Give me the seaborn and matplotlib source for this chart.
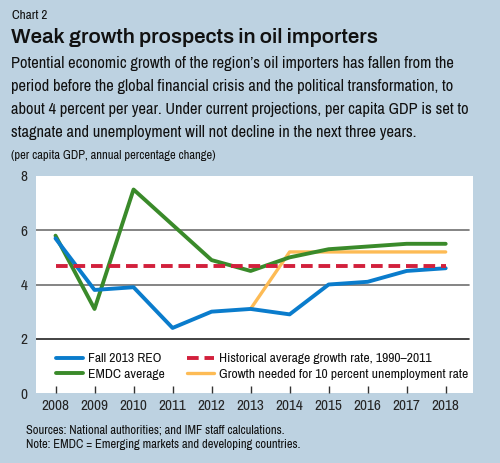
import matplotlib
matplotlib.use('Agg')
import matplotlib.pyplot as plt
import seaborn as sns
import pandas as pd

# ---- data ----
years = [2008, 2009, 2010, 2011, 2012, 2013, 2014, 2015, 2016, 2017, 2018]
fall_2013_reo = [5.7, 3.8, 3.9, 2.4, 3.0, 3.1, 2.9, 4.0, 4.1, 4.5, 4.6]
emdc_average = [5.8, 3.1, 7.5, 6.2, 4.9, 4.5, 5.0, 5.3, 5.4, 5.5, 5.5]
historical_avg = [4.7] * len(years)
needed_years = [2013, 2014, 2015, 2016, 2017, 2018]
needed_growth = [3.1, 5.2, 5.2, 5.2, 5.2, 5.2]

sns.set_theme(style='white')
plt.rcParams['font.family'] = ['Archivo Narrow', 'DejaVu Sans']
plt.rcParams['text.color'] = '#111111'

bg = '#bdd2e1'
fig = plt.figure(figsize=(5, 4.63), dpi=100, facecolor=bg)
ax = fig.add_axes([0.072, 0.151, 0.874, 0.469])
ax.set_facecolor('white')

df_main = pd.DataFrame({'year': years, 'reo': fall_2013_reo,
                        'emdc': emdc_average, 'hist': historical_avg})
df_need = pd.DataFrame({'year': needed_years, 'need': needed_growth})

sns.lineplot(data=df_main, x='year', y='reo', ax=ax, color='#0a7ccc', lw=2.8,
             label='Fall 2013 REO', zorder=5)
sns.lineplot(data=df_main, x='year', y='emdc', ax=ax, color='#3a8a2a', lw=2.8,
             label='EMDC average', zorder=4)
sns.lineplot(data=df_main, x='year', y='hist', ax=ax, color='#d2203c', lw=2.8,
             label='Historical average growth rate, 1990–2011', zorder=6)
ax.lines[-1].set_dashes([3, 1.5])
sns.lineplot(data=df_need, x='year', y='need', ax=ax, color='#fdbb55', lw=2.4,
             label='Growth needed for 10 percent unemployment rate', zorder=3)

ax.set_xlim(2007.5, 2018.7)
ax.set_ylim(0, 8)
for y, c in [(2, '#222222'), (4, '#707070'), (6, '#707070')]:
    ax.axhline(y, xmin=0, xmax=0.99, color=c, lw=1.2, zorder=1)
for s in ax.spines.values():
    s.set_visible(False)

ax.set_xticks(years)
ax.set_xticklabels([str(y) for y in years], fontsize=11)
ax.set_yticks([0, 2, 4, 6, 8])
ax.set_yticklabels(['0', '2', '4', '6', '8'], fontsize=11)
ax.tick_params(axis='x', direction='in', length=5, width=1, color='#333333',
               pad=4, bottom=True)
ax.tick_params(axis='y', length=0, pad=6)
ax.set_xlabel('')
ax.set_ylabel('')

leg = ax.legend(loc='lower left', bbox_to_anchor=(0.046, 0.06), ncol=2,
                frameon=False, fontsize=9.8, handlelength=2.0,
                columnspacing=1.6, labelspacing=0.3, handletextpad=0.35,
                borderaxespad=0, borderpad=0)

# ---- texts ----
fig.text(0.024, 0.966, 'Chart 2', fontsize=9.5, va='center')
fig.text(0.022, 0.918, 'Weak growth prospects in oil importers', fontsize=14.8,
         fontweight='bold', family=['Archivo', 'DejaVu Sans'], va='center')
body = ['Potential economic growth of the region\u2019s oil importers has fallen from the',
        'period before the global financial crisis and the political transformation, to',
        'about 4 percent per year. Under current projections, per capita GDP is set to',
        'stagnate and unemployment will not decline in the next three years.']
for i, line in enumerate(body):
    fig.text(0.022, 0.862 - i * 0.0495, line, fontsize=11.8, va='center')
fig.text(0.022, 0.665, '(per capita GDP, annual percentage change)', fontsize=9,
         va='center')
fig.text(0.052, 0.072, 'Sources: National authorities; and IMF staff calculations.',
         fontsize=9, va='center')
fig.text(0.052, 0.04, 'Note: EMDC = Emerging markets and developing countries.',
         fontsize=9, va='center')

fig.savefig('out.png', dpi=100, facecolor=bg)
